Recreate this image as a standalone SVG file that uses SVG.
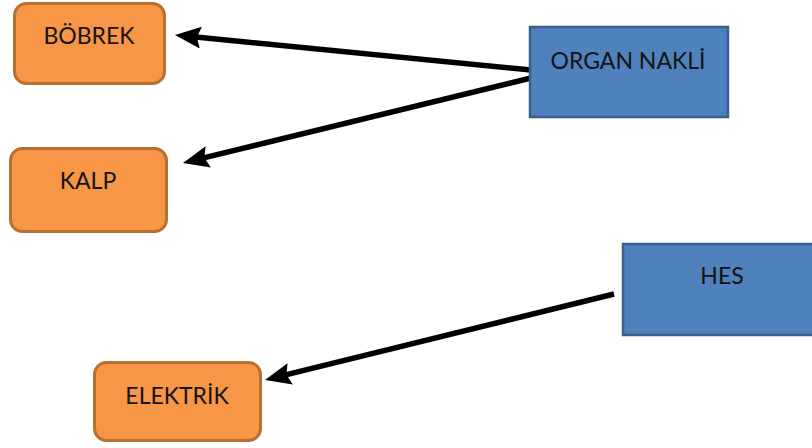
<svg xmlns="http://www.w3.org/2000/svg" width="812" height="448" viewBox="0 0 812 448">
<style>
.org{fill:#F79646;stroke:#B8702F;stroke-width:3}
.blu{fill:#4F81BD;stroke:#3A5F8C;stroke-width:2.5}
.t{font-family:Lato,"Liberation Sans",Arial,sans-serif;font-size:23px;fill:#141414;text-anchor:middle}
.c{stroke:#000;stroke-width:5.5;fill:none;marker-end:url(#ah)}
</style>
<defs>
<marker id="ah" markerUnits="userSpaceOnUse" markerWidth="26" markerHeight="22" viewBox="0 0 26 22" refX="10" refY="11" orient="auto">
<path d="M0,0 L26,11 L0,22 L4,11 z" fill="#000"/>
</marker>
</defs>
<rect width="812" height="448" fill="#fff"/>
<g id="connectors">
<line class="c" x1="531" y1="70" x2="190.9" y2="36.6"/>
<line class="c" x1="531" y1="78" x2="198.5" y2="159.2"/>
<line class="c" x1="614" y1="294" x2="280.5" y2="376.2"/>
</g>
<g id="bobrek"><rect class="org" x="14.5" y="3.5" width="150" height="80" rx="12"/><text class="t" x="89" y="44">BÖBREK</text></g>
<g id="kalp"><rect class="org" x="10.5" y="148.5" width="156" height="83" rx="12"/><text class="t" x="88" y="189">KALP</text></g>
<g id="organ"><rect class="blu" x="530" y="27" width="198" height="90"/><text class="t" x="628" y="69">ORGAN NAKLİ</text></g>
<g id="hes"><rect class="blu" x="623" y="244" width="200" height="91"/><text class="t" x="722" y="284">HES</text></g>
<g id="elektrik"><rect class="org" x="94.5" y="362.5" width="166" height="78" rx="12"/><text class="t" x="177" y="404">ELEKTRİK</text></g>
</svg>
